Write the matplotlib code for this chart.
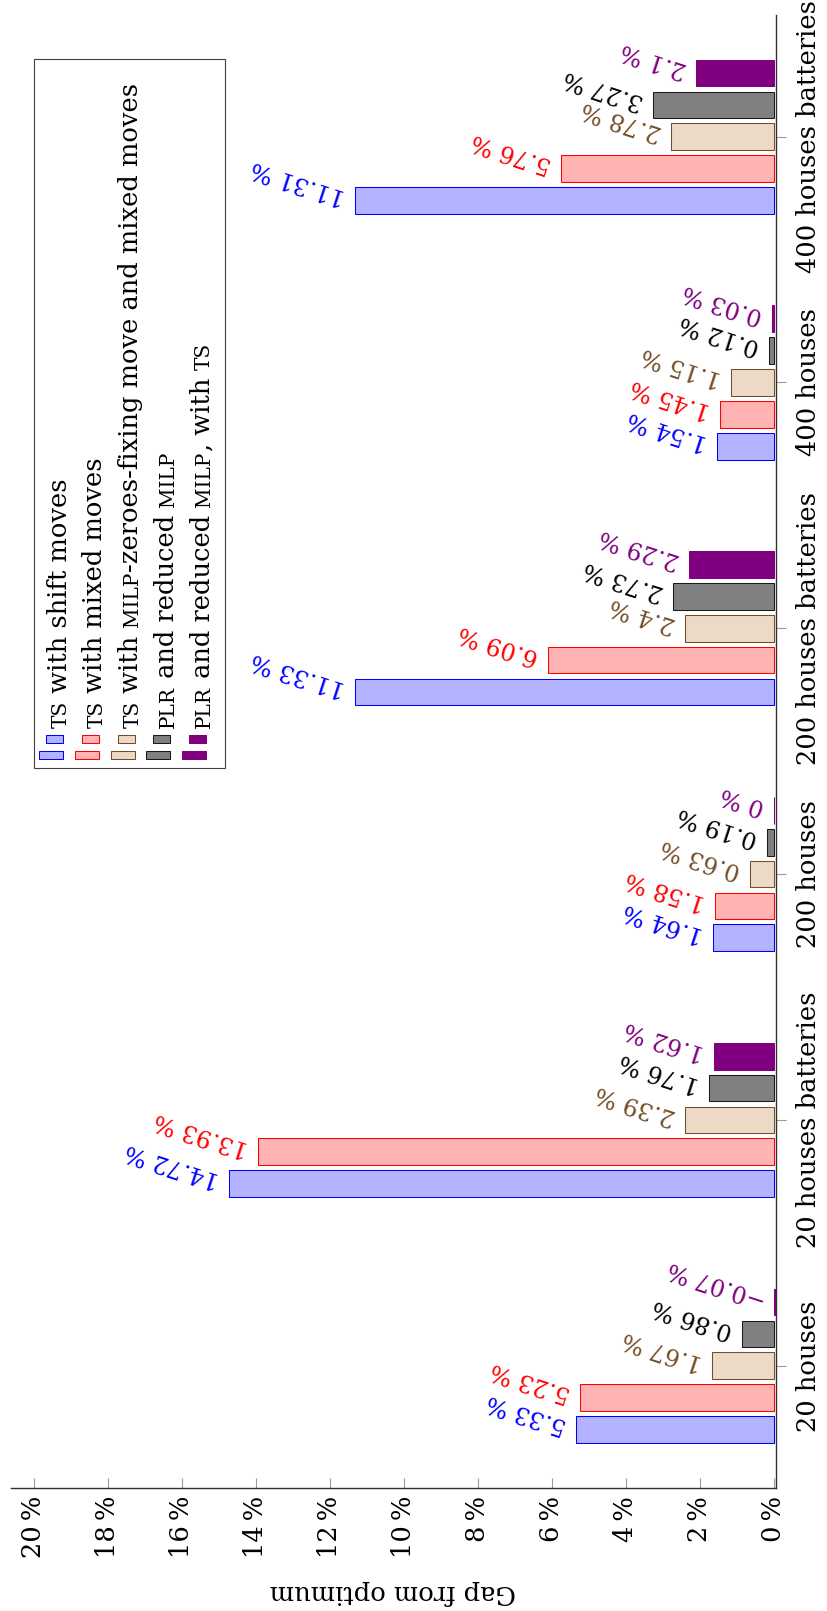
import numpy as np
import matplotlib.pyplot as plt
from matplotlib.patches import Rectangle

plt.rcParams['font.family'] = 'DejaVu Serif'

categories = ["20 houses", "20 houses batteries", "200 houses",
              "200 houses batteries", "400 houses", "400 houses batteries"]

# gap from optimum, in %
ts_shift = [5.33, 14.72, 1.64, 11.33, 1.54, 11.31]
ts_mixed = [5.23, 13.93, 1.58, 6.09, 1.45, 5.76]
ts_milp_fix = [1.67, 2.39, 0.63, 2.4, 1.15, 2.78]
plr_milp = [0.86, 1.76, 0.19, 2.73, 0.12, 3.27]
plr_milp_ts = [-0.07, 1.62, 0, 2.29, 0.03, 2.1]

xticks = list(range(0, 21, 2))

# legend entries as (text, small caps) pieces
legend_entries = [
    [("ts", True), (" with shift moves", False)],
    [("ts", True), (" with mixed moves", False)],
    [("ts", True), (" with ", False), ("milp", True),
     ("-zeroes-fixing move and mixed moves", False)],
    [("plr", True), (" and reduced ", False), ("milp", True)],
    [("plr", True), (" and reduced ", False), ("milp", True),
     (", with ", False), ("ts", True)],
]

series = [ts_shift, ts_mixed, ts_milp_fix, plr_milp, plr_milp_ts]
fills = ["#b3b3ff", "#ffb3b3", "#ecd9c6", "#808080", "#800080"]
edges = ["#0000ff", "#ff0000", "#734d26", "#1a1a1a", "#800080"]
label_colors = ["#0000ff", "#ff0000", "#734d26", "#000000", "#800080"]

FS = 18.5
W, H = 827, 1611


def fmt(v):
    return ("%g" % v).replace("-", "\u2212") + " %"


def fxy(x, y):
    # pixel position (from top-left) to figure fraction
    return x / W, 1 - y / H


fig = plt.figure(figsize=(W / 100, H / 100), dpi=100)
ax = fig.add_axes([11 / W, 1 - 1487.7 / H, (776 - 11) / W, (1487.7 - 15) / H])

ypos = np.arange(len(categories))
step, bar_h = 0.1295, 0.1085
for i, vals in enumerate(series):
    pos = ypos + (i - 2) * step
    ax.barh(pos, vals, height=bar_h, color=fills[i], edgecolor=edges[i],
            linewidth=0.75, zorder=2)
    for p, v in zip(pos, vals):
        ax.annotate(fmt(v), xy=(v, p), xytext=(-10, 3), textcoords="offset pixels",
                    rotation=162, rotation_mode="anchor", ha="left", va="center",
                    color=label_colors[i], fontsize=17)

ax.set_xlim(20.62, -0.065)
ax.set_ylim(-0.496, 5.495)
ax.set_xticks(xticks)
ax.set_xticklabels(["%d\u2009%%" % t for t in xticks], rotation=90)
ax.set_yticks(ypos)
ax.set_yticklabels(categories, rotation=90, va="center")
ax.yaxis.tick_right()
ax.tick_params(axis="x", direction="in", length=7.5, width=0.8, color="#9a9a9a",
               pad=6, labelsize=FS)
ax.tick_params(axis="y", direction="out", length=7.5, width=0.8, color="#9a9a9a",
               pad=7, labelsize=FS)
for lab in ax.get_yticklabels():
    lab.set_va("center")
for s in ["top", "left"]:
    ax.spines[s].set_visible(False)
for s in ["bottom", "right"]:
    ax.spines[s].set_color("#303030")
    ax.spines[s].set_linewidth(1.0)

fig.text(*fxy(393, 1592), "Gap from optimum", rotation=180, ha="center",
         va="center", fontsize=FS)

# legend box drawn by hand, rotated with the rest of the chart
fig.add_artist(Rectangle(fxy(34, 768), 191 / W, 709 / H, transform=fig.transFigure,
                         facecolor="white", edgecolor="#404040", linewidth=0.8))

renderer = fig.canvas.get_renderer()


def advance(s, size):
    t = fig.text(0, 0, "|" + s + "|", fontsize=size)
    w1 = t.get_window_extent(renderer).width
    t.set_text("||")
    w0 = t.get_window_extent(renderer).width
    t.remove()
    return w1 - w0


for j, pieces in enumerate(legend_entries):
    xm = 63 + 35.8 * j
    fig.add_artist(Rectangle(fxy(xm - 24, 759), 24 / W, 8 / H, transform=fig.transFigure,
                             facecolor=fills[j], edgecolor=edges[j], linewidth=0.75))
    fig.add_artist(Rectangle(fxy(xm - 17, 743), 17 / W, 8 / H, transform=fig.transFigure,
                             facecolor=fills[j], edgecolor=edges[j], linewidth=0.75))
    xb = 66.7 + 35.8 * j
    ys = 728.0
    for text, sc in pieces:
        size = FS * 0.78 if sc else FS
        s = text.upper() if sc else text
        fig.text(*fxy(xb, ys), s, rotation=90, rotation_mode="anchor", ha="left",
                 va="baseline", fontsize=size)
        ys -= advance(s, size)

fig.savefig("out.png", dpi=100)
